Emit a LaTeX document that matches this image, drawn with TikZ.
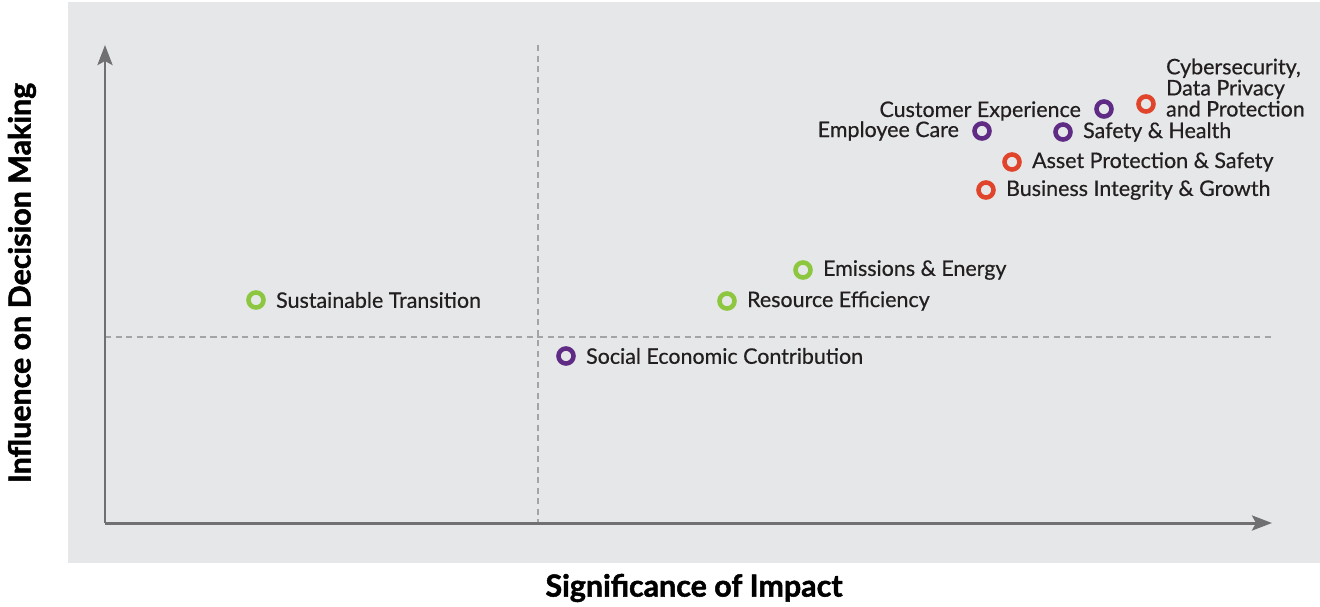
\documentclass[tikz,border=0pt]{standalone}
\usepackage{fontspec}
\setmainfont{Lato}
\newfontfamily\heavyfont{Lato}[BoldFeatures={FakeBold=1.6}]
\newfontfamily\tagfont{Lato}[FakeBold=0.5]
\usepackage{xcolor}
\usetikzlibrary{positioning,arrows.meta}
\definecolor{bggray}{HTML}{E6E7E8}
\definecolor{axisgray}{HTML}{707073}
\definecolor{dashgray}{HTML}{A3A4A6}
\definecolor{ringred}{HTML}{E0442A}
\definecolor{ringpurple}{HTML}{5F2B85}
\definecolor{ringgreen}{HTML}{8DC63F}
\definecolor{txtblack}{HTML}{231F20}
\tikzstyle{ring} = [circle, draw, line width=2.6pt, minimum size=0.3cm, inner sep=0]
\tikzstyle{redring} = [ring, draw=ringred]
\tikzstyle{purplering} = [ring, draw=ringpurple]
\tikzstyle{greenring} = [ring, draw=ringgreen]
\tikzstyle{tag} = [inner sep=0, text=txtblack, font=\fontsize{12.2}{12}\selectfont\tagfont]
\tikzstyle{axis} = [draw=axisgray, line width=1.7pt, -{Stealth[length=0.4cm, width=0.3cm, inset=0.08cm]}]
\tikzstyle{quadline} = [draw=dashgray, line width=0.6pt, dash pattern=on 3.5pt off 2.5pt]
\tikzstyle{axistitle} = [inner sep=0, text=black, font=\fontsize{17.3}{18}\selectfont\heavyfont\bfseries]

\begin{document}
\begin{tikzpicture}[x=0.02cm, y=-0.02cm]
\useasboundingbox (0,0) rectangle (1320,606);
\fill[bggray] (68,2) rectangle (1320,563);
% quadrant lines
\coordinate (vtop) at (538,45);
\coordinate (vbot) at (538,523);
\coordinate (hleft) at (105,337);
\coordinate (hright) at (1272,337);
\draw[quadline] (vtop) -- (vbot);
\draw[quadline] (hleft) -- (hright);
% axes
\coordinate (origin) at (105,523);
\coordinate (ytip) at (105,45);
\coordinate (xtip) at (1272,523);
\draw[axis] (origin) -- (ytip);
\draw[axis] (origin) -- (xtip);
\node[axistitle] (xtitle) at (694,588) {Significance of Impact};
\node[axistitle, rotate=90] (ytitle) at (22,283) {Influence on Decision Making};
% topics
\node[redring] (cyber) at (1146,104) {};
\node[tag, align=left, anchor=south west] (cyberlbl) at ([xshift=0.2cm, yshift=-0.26cm]cyber.east) {Cybersecurity,\\Data Privacy\\and Protection};
\node[purplering] (custexp) at (1104,109) {};
\node[tag, left=0.26cm of custexp, yshift=-0.04cm] (custexplbl) {Customer Experience};
\node[purplering] (empcare) at (982,131) {};
\node[tag, left=0.26cm of empcare] (empcarelbl) {Employee Care};
\node[purplering] (safety) at (1063,132) {};
\node[tag, right=0.2cm of safety] (safetylbl) {Safety \& Health};
\node[redring] (asset) at (1012,162) {};
\node[tag, right=0.2cm of asset] (assetlbl) {Asset Protection \& Safety};
\node[redring] (business) at (986,190) {};
\node[tag, right=0.2cm of business] (businesslbl) {Business Integrity \& Growth};
\node[greenring] (emission) at (803,270) {};
\node[tag, right=0.2cm of emission] (emissionlbl) {Emissions \& Energy};
\node[greenring] (resource) at (727,301) {};
\node[tag, right=0.2cm of resource] (resourcelbl) {Resource Efficiency};
\node[greenring] (sustain) at (256,300) {};
\node[tag, right=0.2cm of sustain] (sustainlbl) {Sustainable Transition};
\node[purplering] (social) at (566,356) {};
\node[tag, right=0.2cm of social] (sociallbl) {Social Economic Contribution};
\end{tikzpicture}
\end{document}
